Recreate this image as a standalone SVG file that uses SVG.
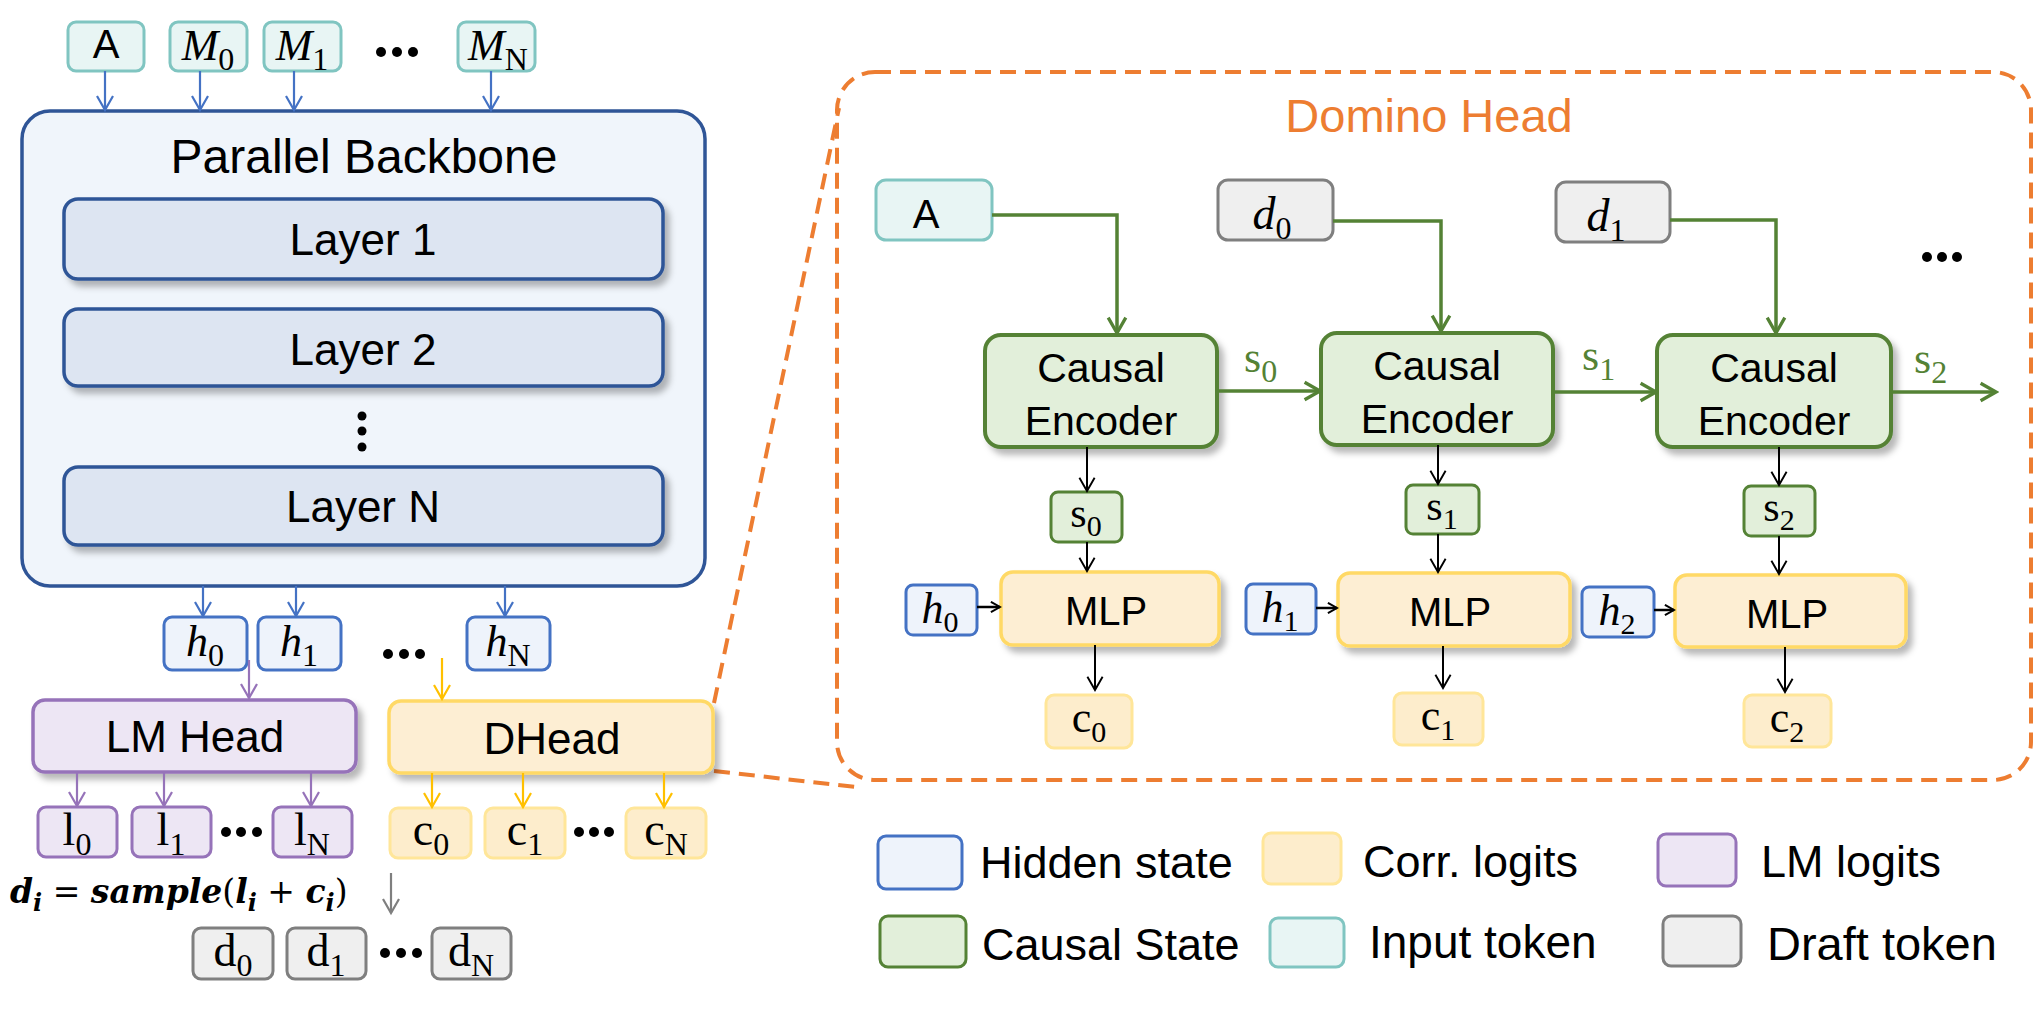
<svg xmlns="http://www.w3.org/2000/svg" width="2042" height="1016" viewBox="0 0 2042 1016">
<defs>
<style>
.t{font-family:"Liberation Sans",Arial,sans-serif;fill:#000}
.m{font-family:"Liberation Serif","Times New Roman",serif;fill:#000}
.i{font-style:italic}
.teal{fill:#e8f5f4;stroke:#80c5c1;stroke-width:3}
.blue{fill:#eef3fb;stroke:#4472c4;stroke-width:3}
.dblue{fill:#dde5f2;stroke:#2f5597;stroke-width:3.5}
.purp{fill:#ede6f4;stroke:#9673b9;stroke-width:3.5}
.yel{fill:#fdeed3;stroke:#ffd966;stroke-width:3.5}
.yell{fill:#fdedcc;stroke:#ffe699;stroke-width:3}
.gray{fill:#efefef;stroke:#7f7f7f;stroke-width:3}
.grn{fill:#e2efda;stroke:#548235;stroke-width:3.5}
.dot{fill:#000}
.ab{fill:none;stroke:#4472c4;stroke-width:2.2;marker-end:url(#mB)}
.ap{fill:none;stroke:#9673b9;stroke-width:2.2;marker-end:url(#mP)}
.ay{fill:none;stroke:#ffc000;stroke-width:2.2;marker-end:url(#mY)}
.ag{fill:none;stroke:#7f7f7f;stroke-width:2.2;marker-end:url(#mG)}
.agr{fill:none;stroke:#548235;stroke-width:3.5;marker-end:url(#mGr)}
.ak{fill:none;stroke:#000;stroke-width:2;marker-end:url(#mK)}
.aks{fill:none;stroke:#000;stroke-width:2.5;marker-end:url(#mKs)}
.or{fill:none;stroke:#ed7d31;stroke-width:4;stroke-dasharray:16 9}
</style>
<marker id="mB" viewBox="0 0 20 20" refX="17" refY="10" markerWidth="20" markerHeight="20" markerUnits="userSpaceOnUse" orient="auto"><path d="M3,2 L17,10 L3,18" fill="none" stroke="#4472c4" stroke-width="2.2"/></marker>
<marker id="mP" viewBox="0 0 20 20" refX="17" refY="10" markerWidth="20" markerHeight="20" markerUnits="userSpaceOnUse" orient="auto"><path d="M3,2 L17,10 L3,18" fill="none" stroke="#9673b9" stroke-width="2.2"/></marker>
<marker id="mY" viewBox="0 0 20 20" refX="17" refY="10" markerWidth="20" markerHeight="20" markerUnits="userSpaceOnUse" orient="auto"><path d="M3,2 L17,10 L3,18" fill="none" stroke="#ffc000" stroke-width="2.2"/></marker>
<marker id="mG" viewBox="0 0 20 20" refX="17" refY="10" markerWidth="20" markerHeight="20" markerUnits="userSpaceOnUse" orient="auto"><path d="M3,2 L17,10 L3,18" fill="none" stroke="#7f7f7f" stroke-width="2.2"/></marker>
<marker id="mGr" viewBox="0 0 20 20" refX="17" refY="10" markerWidth="22" markerHeight="22" markerUnits="userSpaceOnUse" orient="auto"><path d="M3,2 L17,10 L3,18" fill="none" stroke="#548235" stroke-width="3"/></marker>
<marker id="mK" viewBox="0 0 20 20" refX="17" refY="10" markerWidth="19" markerHeight="19" markerUnits="userSpaceOnUse" orient="auto"><path d="M3,2 L17,10 L3,18" fill="none" stroke="#000" stroke-width="2"/></marker>
<marker id="mKs" viewBox="0 0 20 20" refX="17" refY="10" markerWidth="13" markerHeight="13" markerUnits="userSpaceOnUse" orient="auto"><path d="M3,2 L17,10 L3,18" fill="none" stroke="#000" stroke-width="3"/></marker>
<filter id="sh" x="-10%" y="-10%" width="130%" height="150%"><feDropShadow dx="5" dy="6" stdDeviation="3" flood-color="#000" flood-opacity="0.28"/></filter>
</defs>
<rect width="2042" height="1016" fill="#fff"/>

<!-- zoom outline -->
<g id="domino-outline">
<path class="or" d="M875,72 H1993 A38,38 0 0 1 2031,110 V742 A38,38 0 0 1 1993,780 H875 A38,38 0 0 1 837,742 V110 A38,38 0 0 1 875,72 Z"/>
<path class="or" d="M714,703 L839,108"/>
<path class="or" d="M714,771 L856,787"/>
<text x="1429" y="132" font-size="47" text-anchor="middle" style="font-family:'Liberation Sans',Arial,sans-serif;fill:#ed7d31">Domino Head</text>
</g>

<!-- input tokens -->
<g id="tok-A"><rect class="teal" x="68" y="22" width="76" height="49" rx="8"/><text class="t" x="106" y="58" font-size="40" text-anchor="middle">A</text></g>
<g id="tok-M0"><rect class="teal" x="170" y="22" width="77" height="49" rx="8"/><text class="m" x="208" y="60" font-size="44" text-anchor="middle"><tspan class="i">M</tspan><tspan font-size="32" dy="10">0</tspan></text></g>
<g id="tok-M1"><rect class="teal" x="264" y="22" width="77" height="49" rx="8"/><text class="m" x="302" y="60" font-size="44" text-anchor="middle"><tspan class="i">M</tspan><tspan font-size="32" dy="10">1</tspan></text></g>
<g id="tok-dots"><circle class="dot" cx="381" cy="52" r="5"/><circle class="dot" cx="397" cy="52" r="5"/><circle class="dot" cx="413" cy="52" r="5"/></g>
<g id="tok-MN"><rect class="teal" x="458" y="22" width="77" height="49" rx="8"/><text class="m" x="498" y="60" font-size="44" text-anchor="middle"><tspan class="i">M</tspan><tspan font-size="32" dy="10">N</tspan></text></g>

<!-- backbone -->
<g id="backbone">
<rect x="22" y="111" width="683" height="475" rx="28" fill="#f0f5fb" stroke="#2f5597" stroke-width="3.5"/>
<text class="t" x="364" y="173" font-size="48" text-anchor="middle">Parallel Backbone</text>
</g>
<g id="layer1"><rect class="dblue" x="64" y="199" width="599" height="80" rx="14" filter="url(#sh)"/><text class="t" x="363" y="255" font-size="44" text-anchor="middle">Layer 1</text></g>
<g id="layer2"><rect class="dblue" x="64" y="309" width="599" height="77" rx="14" filter="url(#sh)"/><text class="t" x="363" y="365" font-size="44" text-anchor="middle">Layer 2</text></g>
<g id="vdots"><circle class="dot" cx="362" cy="416" r="4.5"/><circle class="dot" cx="362" cy="431" r="4.5"/><circle class="dot" cx="362" cy="447" r="4.5"/></g>
<g id="layerN"><rect class="dblue" x="64" y="467" width="599" height="78" rx="14" filter="url(#sh)"/><text class="t" x="363" y="522" font-size="44" text-anchor="middle">Layer N</text></g>

<!-- hidden states -->
<g id="h0"><rect class="blue" x="164" y="617" width="83" height="53" rx="8"/><text class="m" x="205" y="656" font-size="44" text-anchor="middle"><tspan class="i">h</tspan><tspan font-size="32" dy="10">0</tspan></text></g>
<g id="h1"><rect class="blue" x="258" y="617" width="83" height="53" rx="8"/><text class="m" x="299" y="656" font-size="44" text-anchor="middle"><tspan class="i">h</tspan><tspan font-size="32" dy="10">1</tspan></text></g>
<g id="h-dots"><circle class="dot" cx="388" cy="654" r="5"/><circle class="dot" cx="404" cy="654" r="5"/><circle class="dot" cx="420" cy="654" r="5"/></g>
<g id="hN"><rect class="blue" x="467" y="617" width="83" height="53" rx="8"/><text class="m" x="508" y="656" font-size="44" text-anchor="middle"><tspan class="i">h</tspan><tspan font-size="32" dy="10">N</tspan></text></g>

<!-- heads -->
<g id="lmhead"><rect class="purp" x="33" y="700" width="323" height="72" rx="12" filter="url(#sh)"/><text class="t" x="195" y="752" font-size="44" text-anchor="middle">LM Head</text></g>
<g id="dhead"><rect class="yel" x="389" y="701" width="324" height="72" rx="12" filter="url(#sh)"/><text class="t" x="552" y="754" font-size="44" text-anchor="middle">DHead</text></g>

<!-- logits -->
<g id="l0"><rect class="purp" x="38" y="807" width="79" height="50" rx="8" style="stroke-width:3"/><text class="m" x="77" y="845" font-size="46" text-anchor="middle">l<tspan font-size="32" dy="10">0</tspan></text></g>
<g id="l1"><rect class="purp" x="132" y="807" width="79" height="50" rx="8" style="stroke-width:3"/><text class="m" x="171" y="845" font-size="46" text-anchor="middle">l<tspan font-size="32" dy="10">1</tspan></text></g>
<g id="l-dots"><circle class="dot" cx="226" cy="832" r="5"/><circle class="dot" cx="241" cy="832" r="5"/><circle class="dot" cx="257" cy="832" r="5"/></g>
<g id="lN"><rect class="purp" x="273" y="807" width="79" height="50" rx="8" style="stroke-width:3"/><text class="m" x="312" y="845" font-size="46" text-anchor="middle">l<tspan font-size="32" dy="10">N</tspan></text></g>
<g id="c0"><rect class="yell" x="390" y="808" width="81" height="50" rx="8"/><text class="m" x="431" y="845" font-size="46" text-anchor="middle">c<tspan font-size="32" dy="10">0</tspan></text></g>
<g id="c1"><rect class="yell" x="485" y="808" width="80" height="50" rx="8"/><text class="m" x="525" y="845" font-size="46" text-anchor="middle">c<tspan font-size="32" dy="10">1</tspan></text></g>
<g id="c-dots"><circle class="dot" cx="579" cy="832" r="5"/><circle class="dot" cx="594" cy="832" r="5"/><circle class="dot" cx="609" cy="832" r="5"/></g>
<g id="cN"><rect class="yell" x="626" y="808" width="80" height="50" rx="8"/><text class="m" x="666" y="845" font-size="46" text-anchor="middle">c<tspan font-size="32" dy="10">N</tspan></text></g>

<!-- formula -->
<g id="formula"><text x="10" y="903" font-size="33" style="font-family:'DejaVu Serif','Liberation Serif',serif;fill:#000"><tspan font-weight="bold" font-style="italic">d</tspan><tspan font-size="24" dy="8" font-weight="bold" font-style="italic">i</tspan><tspan dy="-8"> = </tspan><tspan font-weight="bold" font-style="italic">sample</tspan>(<tspan font-weight="bold" font-style="italic">l</tspan><tspan font-size="24" dy="8" font-weight="bold" font-style="italic">i</tspan><tspan dy="-8"> + </tspan><tspan font-weight="bold" font-style="italic">c</tspan><tspan font-size="24" dy="8" font-weight="bold" font-style="italic">i</tspan><tspan dy="-8">)</tspan></text></g>

<!-- draft tokens -->
<g id="d0"><rect class="gray" x="193" y="928" width="80" height="51" rx="8"/><text class="m" x="233" y="966" font-size="46" text-anchor="middle">d<tspan font-size="32" dy="10">0</tspan></text></g>
<g id="d1"><rect class="gray" x="287" y="928" width="79" height="51" rx="8"/><text class="m" x="326" y="966" font-size="46" text-anchor="middle">d<tspan font-size="32" dy="10">1</tspan></text></g>
<g id="d-dots"><circle class="dot" cx="385" cy="953" r="5"/><circle class="dot" cx="401" cy="953" r="5"/><circle class="dot" cx="417" cy="953" r="5"/></g>
<g id="dN"><rect class="gray" x="432" y="928" width="79" height="51" rx="8"/><text class="m" x="471" y="966" font-size="46" text-anchor="middle">d<tspan font-size="32" dy="10">N</tspan></text></g>

<!-- domino head contents -->
<g id="dh-A"><rect class="teal" x="876" y="180" width="116" height="60" rx="10"/><text class="t" x="926" y="228" font-size="40" text-anchor="middle">A</text></g>
<g id="dh-d0"><rect class="gray" x="1218" y="180" width="115" height="60" rx="10"/><text class="m" x="1272" y="229" font-size="46" text-anchor="middle"><tspan class="i">d</tspan><tspan font-size="32" dy="10">0</tspan></text></g>
<g id="dh-d1"><rect class="gray" x="1556" y="182" width="114" height="60" rx="10"/><text class="m" x="1606" y="231" font-size="46" text-anchor="middle"><tspan class="i">d</tspan><tspan font-size="32" dy="10">1</tspan></text></g>
<g id="dh-dots"><circle class="dot" cx="1927" cy="257" r="5"/><circle class="dot" cx="1942" cy="257" r="5"/><circle class="dot" cx="1957" cy="257" r="5"/></g>

<g id="ce0"><rect class="grn" x="985" y="335" width="232" height="112" rx="16" filter="url(#sh)" style="stroke-width:4"/><text class="t" x="1101" y="382" font-size="41" text-anchor="middle">Causal</text><text class="t" x="1101" y="435" font-size="41" text-anchor="middle">Encoder</text></g>
<g id="ce1"><rect class="grn" x="1321" y="333" width="232" height="112" rx="16" filter="url(#sh)" style="stroke-width:4"/><text class="t" x="1437" y="380" font-size="41" text-anchor="middle">Causal</text><text class="t" x="1437" y="433" font-size="41" text-anchor="middle">Encoder</text></g>
<g id="ce2"><rect class="grn" x="1657" y="335" width="234" height="112" rx="16" filter="url(#sh)" style="stroke-width:4"/><text class="t" x="1774" y="382" font-size="41" text-anchor="middle">Causal</text><text class="t" x="1774" y="435" font-size="41" text-anchor="middle">Encoder</text></g>

<g id="s-labels">
<text x="1244" y="372" font-size="44" style="font-family:'Liberation Serif',serif;fill:#548235">s<tspan font-size="32" dy="10">0</tspan></text>
<text x="1582" y="370" font-size="44" style="font-family:'Liberation Serif',serif;fill:#548235">s<tspan font-size="32" dy="10">1</tspan></text>
<text x="1914" y="373" font-size="44" style="font-family:'Liberation Serif',serif;fill:#548235">s<tspan font-size="32" dy="10">2</tspan></text>
</g>

<g id="s0"><rect class="grn" x="1051" y="492" width="71" height="50" rx="7" style="stroke-width:3"/><text class="m" x="1086" y="527" font-size="42" text-anchor="middle">s<tspan font-size="30" dy="9">0</tspan></text></g>
<g id="s1"><rect class="grn" x="1406" y="485" width="73" height="49" rx="7" style="stroke-width:3"/><text class="m" x="1442" y="520" font-size="42" text-anchor="middle">s<tspan font-size="30" dy="9">1</tspan></text></g>
<g id="s2"><rect class="grn" x="1744" y="486" width="71" height="50" rx="7" style="stroke-width:3"/><text class="m" x="1779" y="521" font-size="42" text-anchor="middle">s<tspan font-size="30" dy="9">2</tspan></text></g>

<g id="mlp0"><rect class="yel" x="1001" y="572" width="218" height="73" rx="12" filter="url(#sh)"/><text class="t" x="1106" y="625" font-size="40" text-anchor="middle">MLP</text></g>
<g id="mlp1"><rect class="yel" x="1338" y="573" width="232" height="73" rx="12" filter="url(#sh)"/><text class="t" x="1450" y="626" font-size="40" text-anchor="middle">MLP</text></g>
<g id="mlp2"><rect class="yel" x="1675" y="575" width="231" height="72" rx="12" filter="url(#sh)"/><text class="t" x="1787" y="628" font-size="40" text-anchor="middle">MLP</text></g>

<g id="dh-h0"><rect class="blue" x="906" y="585" width="71" height="50" rx="7"/><text class="m" x="940" y="623" font-size="44" text-anchor="middle"><tspan class="i">h</tspan><tspan font-size="30" dy="9">0</tspan></text></g>
<g id="dh-h1"><rect class="blue" x="1246" y="584" width="70" height="50" rx="7"/><text class="m" x="1280" y="622" font-size="44" text-anchor="middle"><tspan class="i">h</tspan><tspan font-size="30" dy="9">1</tspan></text></g>
<g id="dh-h2"><rect class="blue" x="1582" y="587" width="72" height="50" rx="7"/><text class="m" x="1617" y="625" font-size="44" text-anchor="middle"><tspan class="i">h</tspan><tspan font-size="30" dy="9">2</tspan></text></g>

<g id="dh-c0"><rect class="yell" x="1046" y="695" width="86" height="53" rx="8"/><text class="m" x="1089" y="732" font-size="44" text-anchor="middle">c<tspan font-size="30" dy="10">0</tspan></text></g>
<g id="dh-c1"><rect class="yell" x="1394" y="693" width="89" height="52" rx="8"/><text class="m" x="1438" y="730" font-size="44" text-anchor="middle">c<tspan font-size="30" dy="10">1</tspan></text></g>
<g id="dh-c2"><rect class="yell" x="1744" y="695" width="87" height="52" rx="8"/><text class="m" x="1787" y="732" font-size="44" text-anchor="middle">c<tspan font-size="30" dy="10">2</tspan></text></g>

<!-- legend -->
<g id="legend">
<rect class="blue" x="878" y="836" width="84" height="53" rx="8"/><text class="t" x="980" y="878" font-size="45">Hidden state</text>
<rect class="yell" x="1263" y="833" width="78" height="51" rx="8"/><text class="t" x="1363" y="877" font-size="45">Corr. logits</text>
<rect class="purp" x="1658" y="834" width="78" height="52" rx="8" style="stroke-width:3"/><text class="t" x="1761" y="877" font-size="45">LM logits</text>
<rect class="grn" x="880" y="916" width="86" height="51" rx="8" style="stroke-width:3"/><text class="t" x="982" y="960" font-size="45">Causal State</text>
<rect class="teal" x="1270" y="918" width="74" height="49" rx="8"/><text class="t" x="1369" y="958" font-size="46">Input token</text>
<rect class="gray" x="1663" y="916" width="78" height="50" rx="8"/><text class="t" x="1767" y="960" font-size="47">Draft token</text>
</g>

<!-- connectors -->
<g id="connectors">
<path class="ab" d="M105,71 V110"/>
<path class="ab" d="M200,71 V110"/>
<path class="ab" d="M294,71 V110"/>
<path class="ab" d="M491,71 V110"/>
<path class="ab" d="M203,586 V616"/>
<path class="ab" d="M296,586 V616"/>
<path class="ab" d="M505,586 V616"/>
<path class="ap" d="M249,660 V698"/>
<path class="ay" d="M442,658 V699"/>
<path class="ap" d="M77,772 V806"/>
<path class="ap" d="M164,772 V806"/>
<path class="ap" d="M311,772 V806"/>
<path class="ay" d="M432,773 V807"/>
<path class="ay" d="M523,773 V807"/>
<path class="ay" d="M664,773 V807"/>
<path class="ag" d="M391,873 V913"/>
<path class="agr" d="M992,215 H1117 V333"/>
<path class="agr" d="M1333,221 H1441 V331"/>
<path class="agr" d="M1670,220 H1776 V333"/>
<path class="agr" d="M1217,391 H1320"/>
<path class="agr" d="M1553,392 H1656"/>
<path class="agr" d="M1891,392 H1996"/>
<path class="ak" d="M1087,447 V491"/>
<path class="ak" d="M1438,445 V484"/>
<path class="ak" d="M1779,447 V485"/>
<path class="ak" d="M1087,542 V571"/>
<path class="ak" d="M1438,534 V572"/>
<path class="ak" d="M1779,536 V574"/>
<path class="aks" d="M977,607 H1000"/>
<path class="aks" d="M1316,608 H1337"/>
<path class="aks" d="M1654,610 H1674"/>
<path class="ak" d="M1095,645 V690"/>
<path class="ak" d="M1443,646 V688"/>
<path class="ak" d="M1785,647 V692"/>
</g>
</svg>
